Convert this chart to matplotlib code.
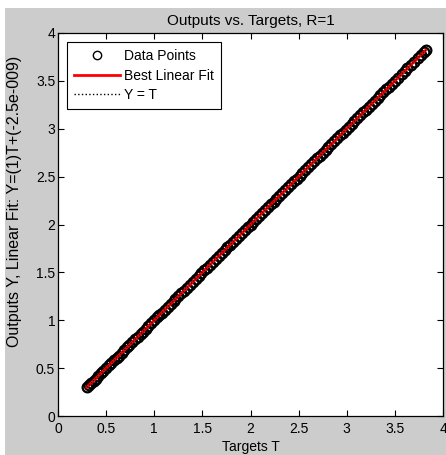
import matplotlib
matplotlib.use("Agg")
import matplotlib.pyplot as plt
from matplotlib.patches import Rectangle
from matplotlib.lines import Line2D

plt.rcParams['font.family'] = ['Liberation Sans', 'DejaVu Sans']

title = "Outputs vs. Targets, R=1"
xlabel = "Targets T"
ylabel = "Outputs Y, Linear Fit: Y=(1)T+(-2.5e-009)"
xticks = [0, 0.5, 1, 1.5, 2, 2.5, 3, 3.5, 4]
xticklabels = ["0", "0.5", "1", "1.5", "2", "2.5", "3", "3.5", "4"]
yticks = [0, 0.5, 1, 1.5, 2, 2.5, 3, 3.5, 4]
yticklabels = ["0", "0.5", "1", "1.5", "2", "2.5", "3", "3.5", "4"]

targets = [0.30, 0.32, 0.34, 0.37, 0.39, 0.42, 0.45, 0.47, 0.50, 0.53, 0.55, 0.58,
           0.61, 0.63, 0.66, 0.69, 0.72, 0.74, 0.77, 0.80, 0.83, 0.86, 0.88, 0.91,
           0.94, 0.97, 1.00, 1.03, 1.05, 1.08, 1.11, 1.14, 1.17, 1.20, 1.22, 1.25,
           1.28, 1.31, 1.34, 1.37, 1.40, 1.43, 1.46, 1.49, 1.52, 1.55, 1.58, 1.61,
           1.64, 1.67, 1.70, 1.73, 1.76, 1.79, 1.82, 1.85, 1.88, 1.91, 1.94, 1.97,
           2.00, 2.03, 2.06, 2.09, 2.12, 2.15, 2.18, 2.21, 2.24, 2.27, 2.30, 2.33,
           2.36, 2.39, 2.42, 2.45, 2.48, 2.51, 2.54, 2.57, 2.60, 2.63, 2.66, 2.69,
           2.72, 2.75, 2.78, 2.81, 2.84, 2.87, 2.90, 2.93, 2.96, 2.99, 3.02, 3.05,
           3.08, 3.11, 3.14, 3.17, 3.20, 3.23, 3.26, 3.29, 3.32, 3.35, 3.38, 3.41,
           3.44, 3.47, 3.50, 3.53, 3.57, 3.60, 3.63, 3.67, 3.70, 3.74, 3.77, 3.80, 3.82]
outputs = [0.30, 0.32, 0.34, 0.37, 0.39, 0.42, 0.45, 0.47, 0.50, 0.53, 0.55, 0.58,
           0.61, 0.63, 0.66, 0.69, 0.72, 0.74, 0.77, 0.80, 0.83, 0.86, 0.88, 0.91,
           0.94, 0.97, 1.00, 1.03, 1.05, 1.08, 1.11, 1.14, 1.17, 1.20, 1.22, 1.25,
           1.28, 1.31, 1.34, 1.37, 1.40, 1.43, 1.46, 1.49, 1.52, 1.55, 1.58, 1.61,
           1.64, 1.67, 1.70, 1.73, 1.76, 1.79, 1.82, 1.85, 1.88, 1.91, 1.94, 1.97,
           2.00, 2.03, 2.06, 2.09, 2.12, 2.15, 2.18, 2.21, 2.24, 2.27, 2.30, 2.33,
           2.36, 2.39, 2.42, 2.45, 2.48, 2.51, 2.54, 2.57, 2.60, 2.63, 2.66, 2.69,
           2.72, 2.75, 2.78, 2.81, 2.84, 2.87, 2.90, 2.93, 2.96, 2.99, 3.02, 3.05,
           3.08, 3.11, 3.14, 3.17, 3.20, 3.23, 3.26, 3.29, 3.32, 3.35, 3.38, 3.41,
           3.44, 3.47, 3.50, 3.53, 3.57, 3.60, 3.63, 3.67, 3.70, 3.74, 3.77, 3.80, 3.82]
fit_slope = 1.0
fit_intercept = -2.5e-9
legend_labels = ["Data Points", "Best Linear Fit", "Y = T"]

W, H, DPI = 446, 455, 100
fig = plt.figure(figsize=(W / DPI, H / DPI), dpi=DPI)
fig.patch.set_facecolor('#cccccc')
# white page margins of the scanned document
fig.add_artist(Rectangle((0, 1 - 8 / H), 1, 8 / H, transform=fig.transFigure,
                         facecolor='white', edgecolor='none', zorder=-1))
fig.add_artist(Rectangle((0, 0), 5 / W, 1, transform=fig.transFigure,
                         facecolor='white', edgecolor='none', zorder=-1))

L, R, T, B = 58, 443, 33, 416
ax = fig.add_axes([L / W, (H - B) / H, (R - L) / W, (B - T) / H])
ax.set_facecolor('white')

xmin, xmax = min(targets), max(targets)
ax.plot(targets, outputs, linestyle='none', marker='o', markersize=7,
        markerfacecolor='none', markeredgecolor='black', markeredgewidth=1.6, zorder=2)
ax.plot([xmin, xmax], [fit_slope * xmin + fit_intercept, fit_slope * xmax + fit_intercept],
        color='red', linewidth=2.0, zorder=3)
ax.plot([xmin, xmax], [xmin, xmax], color='black', linestyle=':', linewidth=0.8, zorder=4)

ax.set_xlim(0, 4)
ax.set_ylim(0, 4)
ax.set_xticks(xticks)
ax.set_xticklabels(xticklabels)
ax.set_yticks(yticks)
ax.set_yticklabels(yticklabels)
ax.tick_params(direction='in', length=4, width=0.8, top=True, right=True,
               labelsize=10, colors='black')
ax.tick_params(axis='x', pad=4)
ax.tick_params(axis='y', pad=2)
for s in ax.spines.values():
    s.set_linewidth(0.9)

ax.set_title(title, fontsize=11, pad=6)
ax.set_xlabel(xlabel, fontsize=10, labelpad=3)
ax.set_ylabel(ylabel, fontsize=11.5)
ax.yaxis.set_label_coords((22 - L) / (R - L), (B - 201) / (B - T))

handles = [
    Line2D([], [], linestyle='none', marker='o', markersize=6,
           markerfacecolor='none', markeredgecolor='black'),
    Line2D([], [], color='red', linewidth=2.0),
    Line2D([], [], color='black', linestyle=':', linewidth=1.0),
]
leg = ax.legend(handles, legend_labels, loc='upper left', fontsize=10,
                bbox_to_anchor=((67 - L) / (R - L), (B - 42) / (B - T)),
                frameon=True, fancybox=False, framealpha=1, edgecolor='black',
                borderaxespad=0.0, handlelength=3.3, handletextpad=0.3,
                borderpad=0.5, labelspacing=0.4)
leg.get_frame().set_linewidth(0.8)

fig.savefig("out.png", dpi=DPI, facecolor=fig.get_facecolor())
